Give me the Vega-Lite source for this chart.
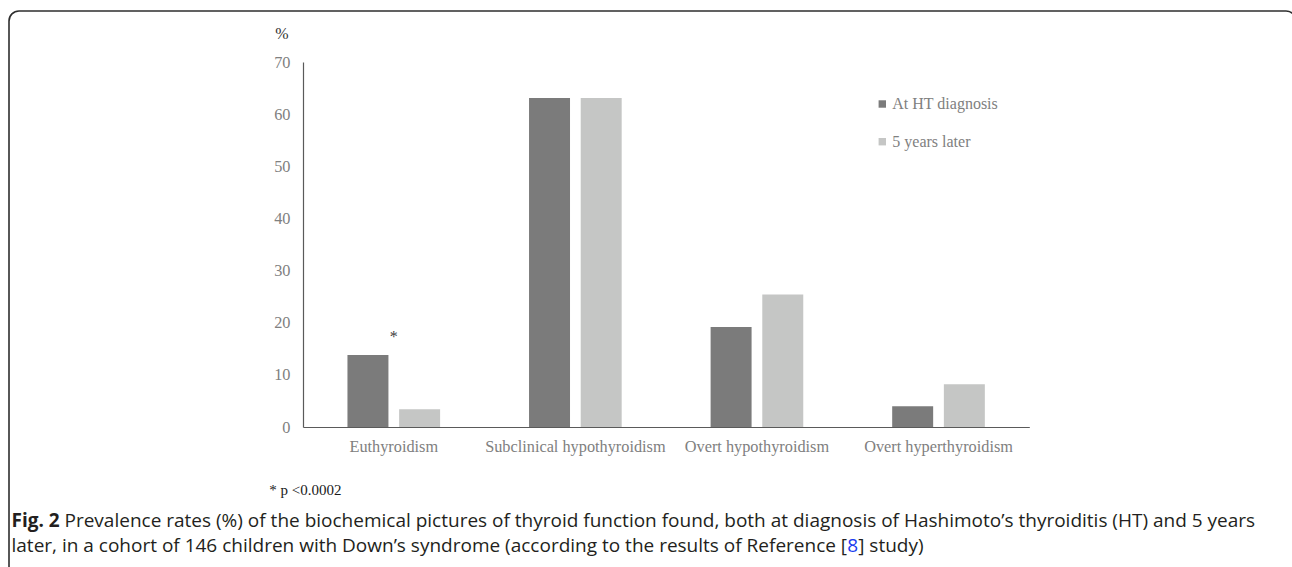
{
  "$schema": "https://vega.github.io/schema/vega-lite/v6.json",
  "width": 1287,
  "height": 572,
  "autosize": {"type": "none"},
  "padding": {"left": 9, "top": 11, "right": -4, "bottom": -16},
  "background": "white",
  "view": {"stroke": "#2e2e2e", "strokeWidth": 1.6, "cornerRadius": 10, "fill": "white"},
  "config": {"font": "Liberation Serif"},
  "data": {
    "values": [
      {"condition": "Euthyroidism", "period": "At HT diagnosis", "pct": 13.8},
      {"condition": "Euthyroidism", "period": "5 years later", "pct": 3.4},
      {"condition": "Subclinical hypothyroidism", "period": "At HT diagnosis", "pct": 63.1},
      {"condition": "Subclinical hypothyroidism", "period": "5 years later", "pct": 63.1},
      {"condition": "Overt hypothyroidism", "period": "At HT diagnosis", "pct": 19.2},
      {"condition": "Overt hypothyroidism", "period": "5 years later", "pct": 25.4},
      {"condition": "Overt hyperthyroidism", "period": "At HT diagnosis", "pct": 4.0},
      {"condition": "Overt hyperthyroidism", "period": "5 years later", "pct": 8.2}
    ]
  },
  "layer": [
    {
      "mark": {"type": "bar"},
      "encoding": {
        "x": {
          "field": "condition", "type": "nominal",
          "scale": {
            "domain": ["Euthyroidism", "Subclinical hypothyroidism", "Overt hypothyroidism", "Overt hyperthyroidism"],
            "range": [294, 1020.3],
            "paddingInner": 0.4897, "paddingOuter": 0.24485, "round": false
          },
          "axis": {
            "title": null, "labelAngle": 0, "labelLimit": 0, "domain": true, "domainColor": "#5a5a5a", "domainWidth": 1.2,
            "ticks": false, "tickSize": 0, "grid": false,
            "labelFont": "Liberation Serif", "labelFontSize": 16.3, "labelColor": "#808080",
            "labelPadding": 11, "offset": -156
          }
        },
        "xOffset": {
          "field": "period", "type": "nominal",
          "scale": {"domain": ["At HT diagnosis", "5 years later"], "paddingInner": 0.207, "paddingOuter": 0}
        },
        "y": {
          "field": "pct", "type": "quantitative",
          "scale": {"domain": [0, 70], "range": [416, 51], "nice": false},
          "axis": {
            "values": [0, 10, 20, 30, 40, 50, 60, 70],
            "title": "%", "titleAngle": 0, "titleX": -21.5, "titleY": 22, "titleAlign": "center",
            "titleBaseline": "middle", "titleFont": "Liberation Serif", "titleFontSize": 16,
            "titleFontWeight": "normal", "titleColor": "#333333",
            "domain": true, "domainColor": "#5a5a5a", "domainWidth": 1.2,
            "ticks": false, "tickSize": 0, "grid": false,
            "labelFont": "Liberation Serif", "labelFontSize": 16.3, "labelColor": "#808080",
            "labelPadding": 13, "offset": -294
          }
        },
        "y2": {"datum": 0},
        "color": {
          "field": "period", "type": "nominal",
          "scale": {"domain": ["At HT diagnosis", "5 years later"], "range": ["#7b7b7b", "#c5c6c5"]},
          "legend": {
            "orient": "none", "legendX": 865.3, "legendY": 85, "title": null,
            "symbolType": "square", "symbolSize": 55, "symbolStrokeWidth": 0,
            "labelFont": "Liberation Serif", "labelFontSize": 16, "labelColor": "#808080",
            "rowPadding": 21.7, "labelOffset": 2, "padding": 0
          }
        }
      }
    },
    {
      "data": {"values": [{"label": "*"}]},
      "mark": {"type": "text", "fontSize": 16, "font": "Liberation Serif", "color": "#404040", "baseline": "middle", "align": "center"},
      "encoding": {
        "text": {"field": "label"},
        "x": {"datum": "Euthyroidism", "type": "nominal", "bandPosition": 0.5},
        "y": {"datum": 17.3, "type": "quantitative"}
      }
    },
    {
      "data": {"values": [{"t": "* p <0.0002"}]},
      "mark": {"type": "text", "align": "left", "baseline": "middle", "font": "Liberation Serif", "fontSize": 15, "color": "#1a1a1a"},
      "encoding": {
        "text": {"field": "t"},
        "x": {"datum": "Euthyroidism", "type": "nominal", "bandPosition": -0.8447},
        "y": {"datum": -12.08, "type": "quantitative"}
      }
    },
    {
      "data": {"values": [{"t": "Fig. 2"}]},
      "mark": {"type": "text", "align": "left", "baseline": "middle", "font": "Open Sans", "fontSize": 19, "fontWeight": "bold", "color": "#231f20"},
      "encoding": {
        "text": {"field": "t"},
        "x": {"datum": "Euthyroidism", "type": "nominal", "bandPosition": -3.6257},
        "y": {"datum": -18.03, "type": "quantitative"}
      }
    },
    {
      "data": {"values": [{"t": "Prevalence rates (%) of the biochemical pictures of thyroid function found, both at diagnosis of Hashimoto’s thyroiditis (HT) and 5 years"}]},
      "mark": {"type": "text", "align": "left", "baseline": "middle", "font": "Open Sans", "fontSize": 19, "color": "#231f20", "dx": 53},
      "encoding": {
        "text": {"field": "t"},
        "x": {"datum": "Euthyroidism", "type": "nominal", "bandPosition": -3.6257},
        "y": {"datum": -18.03, "type": "quantitative"}
      }
    },
    {
      "data": {"values": [{"t": "later, in a cohort of 146 children with Down’s syndrome (according to the results of Reference ["}]},
      "mark": {"type": "text", "align": "left", "baseline": "middle", "font": "Open Sans", "fontSize": 19, "color": "#231f20"},
      "encoding": {
        "text": {"field": "t"},
        "x": {"datum": "Euthyroidism", "type": "nominal", "bandPosition": -3.6257},
        "y": {"datum": -22.82, "type": "quantitative"}
      }
    },
    {
      "data": {"values": [{"t": "8"}]},
      "mark": {"type": "text", "align": "left", "baseline": "middle", "font": "Open Sans", "fontSize": 19, "color": "#1a3cf0", "dx": 835.8},
      "encoding": {
        "text": {"field": "t"},
        "x": {"datum": "Euthyroidism", "type": "nominal", "bandPosition": -3.6257},
        "y": {"datum": -22.82, "type": "quantitative"}
      }
    },
    {
      "data": {"values": [{"t": "] study)"}]},
      "mark": {"type": "text", "align": "left", "baseline": "middle", "font": "Open Sans", "fontSize": 19, "color": "#231f20", "dx": 846.7},
      "encoding": {
        "text": {"field": "t"},
        "x": {"datum": "Euthyroidism", "type": "nominal", "bandPosition": -3.6257},
        "y": {"datum": -22.82, "type": "quantitative"}
      }
    }
  ]
}
